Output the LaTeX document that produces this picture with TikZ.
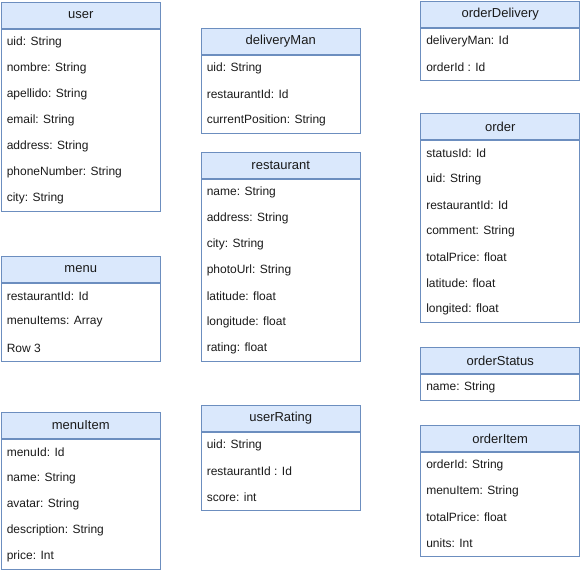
\documentclass[tikz,border=0pt]{standalone}
\usepackage{fontspec}
\setmainfont{Liberation Sans}
\usetikzlibrary{calc}
\definecolor{tblfill}{HTML}{DAE8FC}
\definecolor{tblline}{HTML}{6C8EBF}
\definecolor{txt}{HTML}{1A1A1A}
\tikzset{
    tbl/.style={draw=tblline, fill=tblfill, line width=0.75pt, minimum width=119.6pt, minimum height=19.5pt, inner sep=0pt, anchor=north west, text=txt, font=\fontsize{9.75}{12}\selectfont},
    tblbody/.style={draw=tblline, line width=0.75pt, minimum width=119.6pt, inner sep=0pt, anchor=north},
    fld/.style={anchor=west, inner sep=0pt, text=txt, font=\fontsize{9}{11}\selectfont}
}
\begin{document}
\begin{tikzpicture}[x=0.75pt, y=-0.75pt]

    \useasboundingbox (0,0) rectangle (581,572);

    % left column
    \node (user) [tbl] at (0.5,2) {user};
    \node (user-body) [tblbody, minimum height=7*19.5pt] at (user.south) {};
    \foreach \f [count=\i] in {uid: String, nombre: String, apellido: String, email: String, address: String, phoneNumber: String, city: String}
    \node[fld] (user-\i) at ($(user.south west)+(6,26*\i-13)$) {\f};

    \node (menu) [tbl] at (0.5,256) {menu};
    \node (menu-body) [tblbody, minimum height=3*19.5pt] at (menu.south) {};
    \foreach \f [count=\i] in {restaurantId: Id, menuItems: Array, Row 3}
    \node[fld] (menu-\i) at ($(menu.south west)+(6,26*\i-13)$) {\f};

    \node (menuItem) [tbl] at (0.5,412) {menuItem};
    \node (menuItem-body) [tblbody, minimum height=5*19.5pt] at (menuItem.south) {};
    \foreach \f [count=\i] in {menuId: Id, name: String, avatar: String, description: String, price: Int}
    \node[fld] (menuItem-\i) at ($(menuItem.south west)+(6,26*\i-13)$) {\f};

    % middle column
    \node (deliveryMan) [tbl] at (200.5,28) {deliveryMan};
    \node (deliveryMan-body) [tblbody, minimum height=3*19.5pt] at (deliveryMan.south) {};
    \foreach \f [count=\i] in {uid: String, restaurantId: Id, currentPosition: String}
    \node[fld] (deliveryMan-\i) at ($(deliveryMan.south west)+(6,26*\i-13)$) {\f};

    \node (restaurant) [tbl] at (200.5,152) {restaurant};
    \node (restaurant-body) [tblbody, minimum height=7*19.5pt] at (restaurant.south) {};
    \foreach \f [count=\i] in {name: String, address: String, city: String, photoUrl: String, latitude: float, longitude: float, rating: float}
    \node[fld] (restaurant-\i) at ($(restaurant.south west)+(6,26*\i-13)$) {\f};

    \node (userRating) [tbl] at (200.5,405) {userRating};
    \node (userRating-body) [tblbody, minimum height=3*19.5pt] at (userRating.south) {};
    \foreach \f [count=\i] in {uid: String, restaurantId : Id, score: int}
    \node[fld] (userRating-\i) at ($(userRating.south west)+(6,26*\i-13)$) {\f};

    % right column
    \node (orderDelivery) [tbl] at (420,1) {orderDelivery};
    \node (orderDelivery-body) [tblbody, minimum height=2*19.5pt] at (orderDelivery.south) {};
    \foreach \f [count=\i] in {deliveryMan: Id, orderId : Id}
    \node[fld] (orderDelivery-\i) at ($(orderDelivery.south west)+(6,26*\i-13)$) {\f};

    \node (order) [tbl] at (420,113) {order};
    \node (order-body) [tblbody, minimum height=7*19.5pt] at (order.south) {};
    \foreach \f [count=\i] in {statusId: Id, uid: String, restaurantId: Id, comment: String, totalPrice: float, latitude: float, longited: float}
    \node[fld] (order-\i) at ($(order.south west)+(6,26*\i-13)$) {\f};

    \node (orderStatus) [tbl] at (420,347) {orderStatus};
    \node (orderStatus-body) [tblbody, minimum height=19.5pt] at (orderStatus.south) {};
    \node[fld] (orderStatus-1) at ($(orderStatus.south west)+(6,13)$) {name: String};

    \node (orderItem) [tbl] at (420,425) {orderItem};
    \node (orderItem-body) [tblbody, minimum height=4*19.5pt] at (orderItem.south) {};
    \foreach \f [count=\i] in {orderId: String, menuItem: String, totalPrice: float, units: Int}
    \node[fld] (orderItem-\i) at ($(orderItem.south west)+(6,26*\i-13)$) {\f};

\end{tikzpicture}
\end{document}
